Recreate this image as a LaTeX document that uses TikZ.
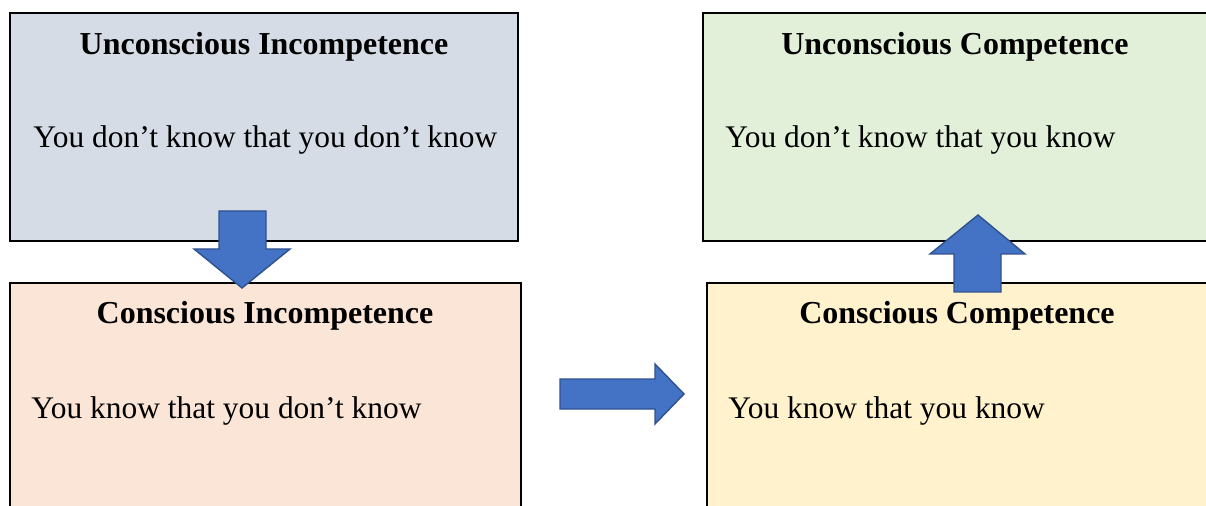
\documentclass[tikz,border=0pt]{standalone}
\usepackage{fontspec}
\setmainfont{Liberation Serif}
\usetikzlibrary{positioning}

\definecolor{unincfill}{HTML}{D6DCE5}
\definecolor{cincfill}{HTML}{FBE5D6}
\definecolor{uncompfill}{HTML}{E2F0D9}
\definecolor{ccompfill}{HTML}{FFF2CC}
\definecolor{arrowfill}{HTML}{4472C4}
\definecolor{arrowline}{HTML}{2F528F}

\begin{document}
\begin{tikzpicture}[
        x=0.02cm, y=-0.02cm,
        stage/.style={rectangle, draw=black, line width=0.8pt},
        title/.style={font=\fontsize{18.2}{21}\selectfont\bfseries, anchor=base, inner sep=0pt},
        body/.style={font=\fontsize{17.9}{21}\selectfont, anchor=base west, inner sep=0pt},
        blockarrow/.style={draw=arrowline, fill=arrowfill, line width=0.8pt, line join=miter}
    ]
        \useasboundingbox (0,0) rectangle (1206,506);
        \clip (0,0) rectangle (1206,506);

        % Four stages
        \draw[stage, fill=unincfill] (10,13) rectangle (518,241);
        \draw[stage, fill=cincfill] (10,283) rectangle (521,530);
        \draw[stage, fill=uncompfill] (703,13) rectangle (1230,241);
        \draw[stage, fill=ccompfill] (707,283) rectangle (1230,530);

        \node[title] (uninc) at (264,55) {Unconscious Incompetence};
        \node[body] (unincText) at (33,148) {You don’t know that you don’t know};

        \node[title] (cinc) at (265,323) {Conscious Incompetence};
        \node[body] (cincText) at (31,418) {You know that you don’t know};

        \node[title] (uncomp) at (955,55) {Unconscious Competence};
        \node[body] (uncompText) at (725,148) {You don’t know that you know};

        \node[title] (ccomp) at (957,323) {Conscious Competence};
        \node[body] (ccompText) at (728,418) {You know that you know};

        % Block arrows
        \draw[blockarrow] (219,211) -- (266,211) -- (266,249) -- (290,249)
            -- (242,288) -- (194,249) -- (219,249) -- cycle;
        \draw[blockarrow] (560,379) -- (655,379) -- (655,364) -- (684,394)
            -- (655,424) -- (655,409) -- (560,409) -- cycle;
        \draw[blockarrow] (954,292) -- (954,254) -- (930,254) -- (978,215)
            -- (1025,254) -- (1001,254) -- (1001,292) -- cycle;

    \end{tikzpicture}
\end{document}
